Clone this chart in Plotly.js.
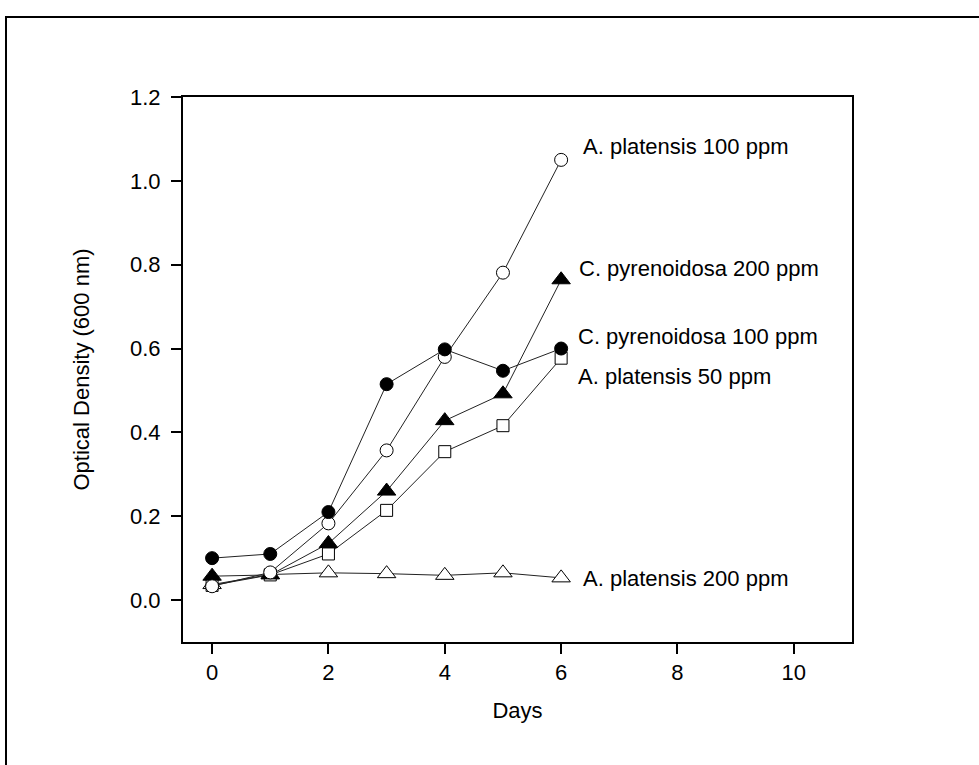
<!DOCTYPE html>
<html>
<head>
<meta charset="utf-8">
<script src="https://cdn.plot.ly/plotly-3.0.1.min.js"></script>
<style>
  html, body { margin: 0; padding: 0; background: #fff; }
  #chart { width: 979px; height: 765px; position: relative; }
  #frame { position: absolute; left: 5px; top: 16px; width: 990px; height: 760px;
           border-left: 2px solid #000; border-top: 2px solid #000; pointer-events: none; }
</style>
</head>
<body>
<div id="chart"></div>
<div id="frame"></div>
<script>
// ---- data ----
const days = [0, 1, 2, 3, 4, 5, 6];
const seriesNames = [
  "C. pyrenoidosa 100 ppm",
  "A. platensis 100 ppm",
  "C. pyrenoidosa 200 ppm",
  "A. platensis 50 ppm",
  "A. platensis 200 ppm"
];
const cPyr100 = [0.100, 0.110, 0.210, 0.515, 0.598, 0.547, 0.600];
const aPla100 = [0.033, 0.066, 0.183, 0.357, 0.580, 0.781, 1.050];
const cPyr200 = [0.057, 0.060, 0.135, 0.260, 0.428, 0.492, 0.764];
const aPla50  = [0.035, 0.060, 0.110, 0.214, 0.354, 0.416, 0.577];
const aPla200 = [0.037, 0.061, 0.065, 0.063, 0.059, 0.065, 0.053];
const xTickVals = [0, 2, 4, 6, 8, 10];
const yTickVals = [0.0, 0.2, 0.4, 0.6, 0.8, 1.0, 1.2];

// ---- styles ----
const FONT = "Liberation Sans, Arial, sans-serif";
const FS = 22;
const lineStyle = {color: "#222", width: 1};
function mk(symbol, fill, size) {
  return {symbol: symbol, size: size, color: fill, line: {color: "#000", width: 1}};
}
const seriesY = [cPyr100, aPla100, cPyr200, aPla50, aPla200];
const markers = [
  mk("circle", "#000", 13),
  mk("circle", "#fff", 13),
  mk("triangle-up", "#000", 16),
  mk("square", "#fff", 12),
  mk("triangle-up", "#fff", 16)
];
// draw order: bottom-most first
const order = [4, 3, 2, 1, 0];
const traces = order.map(i => ({
  x: days, y: seriesY[i], name: seriesNames[i], type: "scatter", mode: "lines+markers",
  line: lineStyle, marker: markers[i], cliponaxis: false
}));

// label placement (x in days, y in OD units), tied to series by name
const labelPos = {
  "A. platensis 100 ppm":   [6.35, 1.082],
  "C. pyrenoidosa 200 ppm": [6.27, 0.792],
  "C. pyrenoidosa 100 ppm": [6.25, 0.629],
  "A. platensis 50 ppm":    [6.25, 0.533],
  "A. platensis 200 ppm":   [6.35, 0.052]
};
const annotations = seriesNames.map(n => ({
  x: labelPos[n][0], y: labelPos[n][1], xref: "x", yref: "y",
  text: n, showarrow: false, xanchor: "left", yanchor: "middle",
  font: {family: FONT, size: FS, color: "#000"}
}));

const axisCommon = {
  showline: true, linecolor: "#000", linewidth: 2, mirror: true,
  ticks: "outside", ticklen: 10, tickwidth: 2, tickcolor: "#000",
  showgrid: false, zeroline: false,
  tickfont: {family: FONT, size: FS, color: "#000"}
};

const layout = {
  width: 979, height: 765,
  margin: {l: 183, r: 127, t: 97, b: 123},
  paper_bgcolor: "rgba(0,0,0,0)", plot_bgcolor: "#fff",
  showlegend: false,
  xaxis: Object.assign({}, axisCommon, {
    range: [-0.5, 11], tickvals: xTickVals, ticktext: xTickVals.map(String),
    title: {text: "Days", font: {family: FONT, size: FS, color: "#000"}, standoff: 18}
  }),
  yaxis: Object.assign({}, axisCommon, {
    range: [-0.1, 1.2], tickvals: yTickVals, ticktext: yTickVals.map(v => v.toFixed(1)),
    ticklabelstandoff: 6,
    title: {text: "Optical Density (600 nm)", font: {family: FONT, size: FS, color: "#000"}, standoff: 34}
  }),
  annotations: annotations
};

Plotly.newPlot("chart", traces, layout, {displayModeBar: false, staticPlot: true});
</script>
</body>
</html>
